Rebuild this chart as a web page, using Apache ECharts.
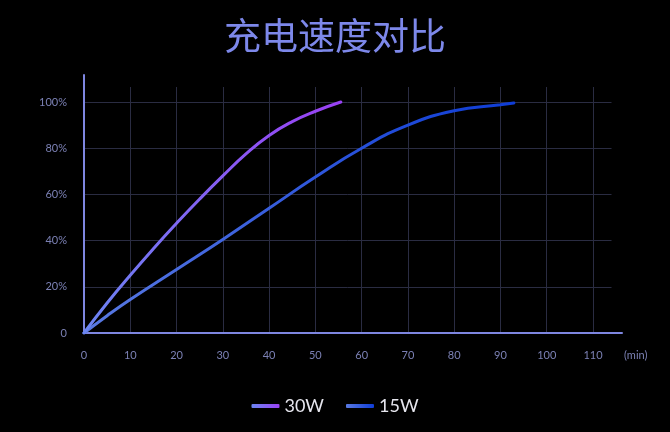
<!DOCTYPE html>
<html><head><meta charset="utf-8">
<script src="https://cdn.jsdelivr.net/npm/echarts@6/dist/echarts.min.js"></script>
<style>html,body{margin:0;padding:0;background:#000;}#c{width:670px;height:432px;}</style>
</head><body><div id="c"></div>
<script>
const titleText = '充电速度对比';
const seriesNames = ['30W', '15W'];
const data30W = [[0,0],[5,13],[10,25],[15,36.5],[20,47.5],[25,58],[30,68],[35,77.5],[40,85.5],[45,91.5],[50,96],[55.5,100]];
const data15W = [[0,0],[5,7.5],[10,14.5],[20,27.5],[30,40.5],[40,54],[50,67.5],[60,80],[70,90],[80,96.2],[90,98.8],[92.9,99.6]];
const xTicksNote = '(min)';

const chart = echarts.init(document.getElementById('c'));
const labelColor = '#7b80b4';
const axisColor = '#7e86e0';
const splitColor = '#2a2c42';
const font = 'Lato, "Noto Sans", sans-serif';

function grad(c0, c1) {
  return new echarts.graphic.LinearGradient(0, 1, 1, 0, [{offset:0,color:c0},{offset:1,color:c1}]);
}
const c30 = grad('#6a86f2', '#9a40f4');
const c15 = grad('#5a7ae2', '#0e3cd6');

chart.setOption({
  backgroundColor: '#000',
  title: { text: titleText, left: 'center', top: 12,
    textStyle: { color: '#7d88ea', fontSize: 37, fontWeight: 'normal', fontFamily: '"Noto Sans CJK SC", sans-serif' } },
  legend: {
    data: seriesNames, left: 'center', top: 392, itemWidth: 28, itemHeight: 4, itemGap: 22,
    icon: 'roundRect',
    textStyle: { color: '#e6e6ee', fontSize: 18, fontFamily: font, padding: [0,0,0,0] }
  },
  grid: [
    { left: 84, right: 58.5, top: 87, bottom: 99, containLabel: false },
    { left: 84, right: 48, top: 75, bottom: 99, containLabel: false }
  ],
  xAxis: [
    { type: 'value', gridIndex: 0, min: 0, max: 114, interval: 10,
      axisLine: { show: false }, axisTick: { show: false },
      splitLine: { show: true, showMaxLine: false, lineStyle: { color: splitColor, width: 1 } },
      axisLabel: { color: labelColor, fontSize: 11, margin: 17, fontFamily: font, showMaxLabel: false } },
    { type: 'value', gridIndex: 1, min: 0, max: 1,
      axisLine: { show: true, lineStyle: { color: axisColor, width: 2 } }, axisTick: { show: false },
      splitLine: { show: false }, axisLabel: { show: false },
      name: xTicksNote, nameLocation: 'end', nameGap: 2,
      nameTextStyle: { color: labelColor, fontSize: 11, fontFamily: font, align: 'left', verticalAlign: 'top', padding: [17,0,0,0] } }
  ],
  yAxis: [
    { type: 'value', gridIndex: 0, min: 0, max: 106.5, interval: 20,
      axisLine: { show: false }, axisTick: { show: false },
      splitLine: { show: true, showMinLine: false, showMaxLine: false, lineStyle: { color: splitColor, width: 1 } },
      axisLabel: { color: labelColor, fontSize: 11, margin: 17, fontFamily: font, showMaxLabel: false,
        formatter: v => v === 0 ? '0' : v + '%' } },
    { type: 'value', gridIndex: 1, min: 0, max: 1,
      axisLine: { show: true, lineStyle: { color: axisColor, width: 2 } }, axisTick: { show: false },
      splitLine: { show: false }, axisLabel: { show: false } }
  ],
  series: [
    { name: seriesNames[0], type: 'line', xAxisIndex: 0, yAxisIndex: 0, data: data30W, smooth: true, showSymbol: false,
      lineStyle: { width: 3, color: c30, cap: 'round' }, itemStyle: { color: c30 }, z: 3 },
    { name: seriesNames[1], type: 'line', xAxisIndex: 0, yAxisIndex: 0, data: data15W, smooth: true, showSymbol: false,
      lineStyle: { width: 3, color: c15, cap: 'round' }, itemStyle: { color: c15 }, z: 2 }
  ]
});
</script></body></html>
